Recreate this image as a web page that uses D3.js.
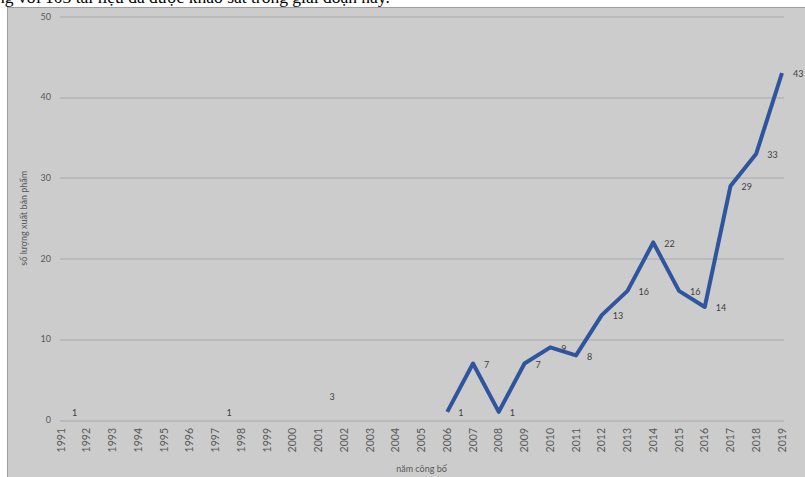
<!DOCTYPE html>
<html>
<head>
<meta charset="utf-8">
<script src="https://cdn.jsdelivr.net/npm/d3@7"></script>
<style>
  body { margin: 0; background: #fff; }
  svg { display: block; }
</style>
</head>
<body>
<div id="chart"></div>
<script>
// years on the category axis
const years = d3.range(1991, 2020).map(String);
// publications per year, null where nothing is plotted
const counts = [1, null, null, null, null, null, 1, null, null, null, 3, null, null, null, null,
  1, 7, 1, 7, 9, 8, 13, 16, 22, 16, 14, 29, 33, 43];
const yTicks = [0, 10, 20, 30, 40, 50];

const W = 805, H = 477;
const margin = {top: 16.5, right: 23, bottom: 57, left: 61};
const width = W - margin.left - margin.right;
const height = H - margin.top - margin.bottom;
const font = 'Lato, "Open Sans", sans-serif';
const txt = '#595959';

const svg = d3.select('#chart').append('svg')
  .attr('width', W)
  .attr('height', H);

// cut off line of the page text above the chart
svg.append('text')
  .attr('x', -4)
  .attr('y', 3)
  .attr('font-family', '"Liberation Serif", "DejaVu Serif", serif')
  .attr('font-size', 17.5)
  .attr('fill', '#000')
  .text('ng với 103 tài liệu đã được khảo sát trong giai đoạn này.');

// chart frame
svg.append('rect')
  .attr('x', 7.5)
  .attr('y', 7.5)
  .attr('width', W)
  .attr('height', H)
  .attr('fill', '#cccccc')
  .attr('stroke', '#9f9f9f')
  .attr('stroke-width', 1);

const g = svg.append('g')
  .attr('transform', 'translate(' + margin.left + ',' + margin.top + ')');

const x = d3.scalePoint()
  .domain(years)
  .range([0, width]);

const y = d3.scaleLinear()
  .domain([0, 50])
  .range([height, 0]);

// gridlines
g.selectAll('.grid')
  .data(yTicks)
  .enter().append('line')
  .attr('class', 'grid')
  .attr('x1', -1)
  .attr('x2', width + 2)
  .attr('y1', d => Math.round(y(d)) + 0.5)
  .attr('y2', d => Math.round(y(d)) + 0.5)
  .attr('stroke', '#a9a9a9')
  .attr('stroke-width', 1);

// y tick labels
g.selectAll('.ylab')
  .data(yTicks)
  .enter().append('text')
  .attr('class', 'ylab')
  .attr('x', -10)
  .attr('y', d => y(d))
  .attr('dy', '0.35em')
  .attr('text-anchor', 'end')
  .attr('font-family', font)
  .attr('font-size', 9)
  .attr('fill', txt)
  .text(d => d);

// x tick labels, rotated
g.selectAll('.xlab')
  .data(years)
  .enter().append('text')
  .attr('class', 'xlab')
  .attr('transform', d => 'translate(' + x(d) + ',' + (height + 8) + ') rotate(-90)')
  .attr('dy', '0.35em')
  .attr('text-anchor', 'end')
  .attr('font-family', font)
  .attr('font-size', 10.5)
  .attr('fill', txt)
  .text(d => d);

// axis titles
g.append('text')
  .attr('x', width / 2)
  .attr('y', height + 52)
  .attr('text-anchor', 'middle')
  .attr('font-family', font)
  .attr('font-size', 9)
  .attr('fill', txt)
  .text('năm công bố');

g.append('text')
  .attr('transform', 'translate(' + (-37) + ',' + (height / 2) + ') rotate(-90)')
  .attr('dy', '0.35em')
  .attr('text-anchor', 'middle')
  .attr('font-family', font)
  .attr('font-size', 9)
  .attr('fill', txt)
  .text('số lượng xuất bản phẩm');

const pts = years.map((yr, i) => ({year: yr, value: counts[i]}));

const line = d3.line()
  .defined(d => d.value !== null)
  .x(d => x(d.year))
  .y(d => y(d.value));

g.append('path')
  .datum(pts)
  .attr('d', line)
  .attr('fill', 'none')
  .attr('stroke', '#2f559f')
  .attr('stroke-width', 4)
  .attr('stroke-linejoin', 'round');

// data labels to the right of each point
g.selectAll('.dlab')
  .data(pts.filter(d => d.value !== null))
  .enter().append('text')
  .attr('class', 'dlab')
  .attr('x', d => x(d.year) + 11)
  .attr('y', d => y(d.value) + 1)
  .attr('dy', '0.35em')
  .attr('font-family', font)
  .attr('font-size', 9)
  .attr('fill', '#404040')
  .text(d => d.value);
</script>
</body>
</html>
